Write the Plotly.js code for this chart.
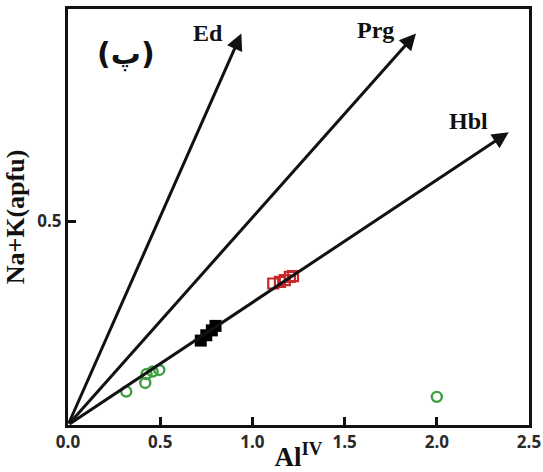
<!DOCTYPE html>
<html>
<head>
<meta charset="utf-8">
<script src="https://cdn.plot.ly/plotly-3.0.1.min.js"></script>
<style>html,body{margin:0;padding:0;background:#fff;}#chart{width:543px;height:472px;}</style>
</head>
<body>
<div id="chart"></div>
<script>
// Data
const greenX = [0.316, 0.419, 0.426, 0.459, 0.495, 2.0];
const greenY = [0.082, 0.103, 0.125, 0.131, 0.135, 0.069];
const blackX = [0.72, 0.75, 0.78, 0.80];
const blackY = [0.207, 0.220, 0.232, 0.243];
const redX = [1.113, 1.149, 1.176, 1.203, 1.22];
const redY = [0.347, 0.351, 0.355, 0.363, 0.365];
// Vector end members (lines from origin)
const endNames = ["Ed", "Prg", "Hbl"];
const endX = [0.94, 1.887, 2.39];
const endY = [0.96, 0.96, 0.718];
const labelX = [0.76, 1.67, 2.17];
const labelY = [0.96, 0.968, 0.745];
// Axis ticks
const xTickVals = [0, 0.5, 1.0, 1.5, 2.0, 2.5];
const xTickText = ["0.0", "0.5", "1.0", "1.5", "2.0", "2.5"];
const yTickVals = [0.5];
const yTickText = ["0.5"];
const yUnlabelledTicks = [0.22, 0.757];

const traces = [
  {x: greenX, y: greenY, mode: 'markers', type: 'scatter',
   marker: {symbol: 'circle-open', size: 10, color: '#3f9f3f', line: {width: 2.4, color: '#3f9f3f'}}},
  {x: blackX, y: blackY, mode: 'markers', type: 'scatter',
   marker: {symbol: 'square', size: 12, color: '#000'}},
  {x: redX, y: redY, mode: 'markers', type: 'scatter',
   marker: {symbol: 'square-open', size: 10, color: '#c8282a', line: {width: 2.2, color: '#c8282a'}}}
];

const annotations = [];
for (let i = 0; i < endNames.length; i++) {
  annotations.push({x: endX[i], y: endY[i], ax: 0, ay: 0, xref: 'x', yref: 'y', axref: 'x', ayref: 'y',
    showarrow: true, arrowhead: 2, arrowsize: 1.1, arrowwidth: 3, arrowcolor: '#111', text: ''});
  annotations.push({x: labelX[i], y: labelY[i], xref: 'x', yref: 'y', showarrow: false, text: endNames[i],
    font: {family: 'Liberation Serif', size: 24, color: '#111', weight: 'bold'}});
}
annotations.push({x: 0.058, y: 0.893, xref: 'paper', yref: 'paper', xanchor: 'left', yanchor: 'middle',
  showarrow: false, text: '(پ)',
  font: {family: 'DejaVu Sans', size: 30, color: '#111', weight: 'bold'}});

const layout = {
  width: 543, height: 472,
  margin: {l: 68, r: 14, t: 9, b: 47},
  showlegend: false,
  paper_bgcolor: '#fff', plot_bgcolor: '#fff',
  xaxis: {range: [0, 2.5], tickvals: xTickVals, ticktext: xTickText, ticks: 'inside', ticklen: 8, tickwidth: 3,
    tickcolor: '#111', showline: true, linewidth: 3, linecolor: '#111', mirror: true, showgrid: false, zeroline: false,
    ticklabeloverflow: 'allow',
    tickfont: {family: 'Open Sans', size: 17, color: '#2a2a2a', weight: 'bold'},
    title: {text: 'Al<sup>IV</sup>', standoff: 2, font: {family: 'Liberation Serif', size: 27, color: '#111', weight: 'bold'}}},
  yaxis: {range: [0, 1.02], tickvals: yTickVals, ticktext: yTickText, ticks: 'inside', ticklen: 8, tickwidth: 3,
    tickcolor: '#111', showline: true, linewidth: 3, linecolor: '#111', mirror: true, showgrid: false, zeroline: false,
    tickfont: {family: 'Open Sans', size: 17, color: '#2a2a2a', weight: 'bold'},
    title: {text: 'Na+K(apfu)', standoff: 6, font: {family: 'Liberation Serif', size: 26, color: '#111', weight: 'bold'}}},
  yaxis2: {range: [0, 1.02], overlaying: 'y', side: 'left', tickvals: yUnlabelledTicks, showticklabels: false,
    ticks: 'inside', ticklen: 8, tickwidth: 3, tickcolor: '#111', showline: false, showgrid: false, zeroline: false},
  annotations: annotations
};

Plotly.newPlot('chart', traces, layout, {displayModeBar: false, staticPlot: true});
</script>
</body>
</html>
